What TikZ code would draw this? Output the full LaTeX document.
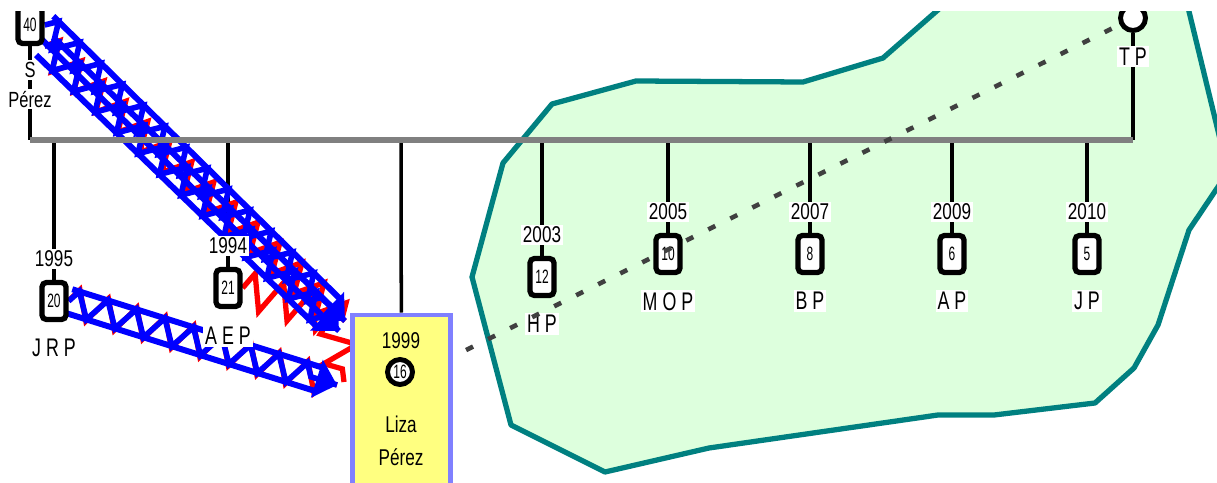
\documentclass[tikz,border=0pt]{standalone}
\usepackage{fontspec}
\setmainfont{Liberation Sans}[FakeStretch=0.75]
\newfontfamily\namefont{Liberation Sans}[FakeStretch=0.7]
\newfontfamily\numfont{Liberation Sans}[FakeStretch=0.62]
\usetikzlibrary{arrows.meta, positioning, calc, decorations.pathmorphing}

\pgfdeclarelayer{back}
\pgfsetlayers{back,main}

\definecolor{zonefill}{HTML}{DDFFDD}
\definecolor{zoneline}{HTML}{008080}
\definecolor{axisgray}{HTML}{808080}
\definecolor{lizafill}{HTML}{FFFF80}
\definecolor{lizaline}{HTML}{8080FF}
\definecolor{dots}{HTML}{404040}

% blue truss connector: two rails, zigzag bracing, arrow head
\newcommand{\trusslink}[2]{%
  \draw[rail] ($(#1)!7pt!90:(#2)$) -- ($(#2)!7pt!-90:(#1)$);
  \draw[rail] ($(#1)!7pt!-90:(#2)$) -- ($(#2)!7pt!90:(#1)$);
  \draw[brace] (#1) -- (#2);
  \draw[trusstip] ($(#2)!12pt!(#1)$) -- (#2);
}

\begin{document}
\begin{tikzpicture}[x=0.02cm, y=-0.02cm,
    stem/.style={line width=2pt},
    axis/.style={draw=axisgray, line width=3.3pt},
    zonearea/.style={draw=zoneline, fill=zonefill, line width=3pt, line join=round},
    pbox/.style={draw, fill=white, line width=3pt, rounded corners=2.5pt, minimum width=0.48cm, minimum height=0.74cm, inner sep=0pt, font=\numfont\fontsize{11}{12}\selectfont},
    pring/.style={draw, circle, fill=white, line width=2.8pt, minimum size=0.5cm, inner sep=0pt, font=\numfont\fontsize{11}{12}\selectfont},
    year/.style={fill=white, inner sep=1pt, font=\fontsize{13}{14}\selectfont},
    who/.style={fill=white, inner sep=1pt, font=\namefont\fontsize{14.5}{16}\selectfont},
    lizabox/.style={draw=lizaline, fill=lizafill, line width=2.8pt, minimum width=1.96cm, minimum height=4.4cm},
    dotline/.style={draw=dots, line width=2.6pt, dash pattern=on 4.5pt off 9.5pt},
    rail/.style={blue, line width=3.4pt, shorten >=11pt},
    brace/.style={blue, line width=3.2pt, decorate, decoration={zigzag, segment length=17pt, amplitude=7pt, post length=11pt}},
    trusstip/.style={blue, line width=3.4pt, -{Triangle[length=12pt, width=22pt]}},
    redzig/.style={red, line width=3pt, decorate, decoration={zigzag, segment length=17pt, amplitude=8pt}}
]
\useasboundingbox (0,0) rectangle (1217,483);

% timeline
\coordinate (t40) at (30,140);
\coordinate (t95) at (54,140);
\coordinate (t94) at (228,140);
\coordinate (t99) at (401,140);
\coordinate (t03) at (542,140);
\coordinate (t05) at (668,140);
\coordinate (t07) at (810,140);
\coordinate (t09) at (952,140);
\coordinate (t10) at (1087,140);
\coordinate (ttp) at (1133,140);
\draw[axis] (t40) -- (ttp);

% top row, cut by the frame
\begin{scope}
\clip (0,12) rectangle (1217,483);
\node[pbox] (b40) at (30,25) {40};
\node[pring] (tpc) at (1133,18) {};
\end{scope}
\node[who, font=\fontsize{12.5}{14}\selectfont, below=0.28cm of b40] (s40) {S};
\node[who, font=\fontsize{12.5}{14}\selectfont, below=0.18cm of s40] (p40) {Pérez};
\node[who, below=0.26cm of tpc] (ntp) {T P};

% people below the timeline
\node[pbox] (b95) at (54,301) {20};
\node[year, above=0.22cm of b95] (y95) {1995};
\node[who, below=0.3cm of b95] (n95) {J R P};

\node[pbox] (b94) at (228,288) {21};
\node[year, above=0.22cm of b94] (y94) {1994};
\node[who, below=0.32cm of b94] (n94) {A E P};

\node[pbox] (b03) at (542,277) {12};
\node[year, above=0.22cm of b03] (y03) {2003};
\node[who, below=0.3cm of b03] (n03) {H P};

\node[pbox] (b05) at (668,254) {10};
\node[year, above=0.22cm of b05] (y05) {2005};
\node[who, below=0.3cm of b05] (n05) {M O P};

\node[pbox] (b07) at (810,254) {8};
\node[year, above=0.22cm of b07] (y07) {2007};
\node[who, below=0.3cm of b07] (n07) {B P};

\node[pbox] (b09) at (952,254) {6};
\node[year, above=0.22cm of b09] (y09) {2009};
\node[who, below=0.3cm of b09] (n09) {A P};

\node[pbox] (b10) at (1087,254) {5};
\node[year, above=0.22cm of b10] (y10) {2010};
\node[who, below=0.3cm of b10] (n10) {J P};

% Liza Perez
\coordinate (lp) at (400,372);
\coordinate (ld) at (400,383);
\draw[dotline] (ld) -- (tpc);
\node[lizabox, anchor=north] (liza) at (401.5,312.5) {};
\node[year, fill=none] (y99) at (401,341) {1999};
\node[pring] (c16) at (lp) {16};
\node[align=center, font=\fontsize{13}{18.5}\selectfont] (lzname) at (401,441) {Liza\\Pérez};

% link ends at the box
\coordinate (lzA) at (345,321);
\coordinate (lzB) at (339,331);
\coordinate (lzC) at (337,385);
\coordinate (lzD) at (336,318);
\coordinate (lzE) at (344,382);

\begin{pgfonlayer}{back}
\begin{scope}
\clip (0,12) rectangle (1217,483);
\draw[zonearea] (955,-5) -- (883,58) -- (803,82) -- (636,81) -- (552,104) -- (503,163)
  -- (472,277) -- (511,425) -- (605,472) -- (709,448) -- (938,415) -- (994,415)
  -- (1095,403) -- (1134,368) -- (1158,325) -- (1189,230) -- (1228,172) -- (1185,-5) -- cycle;
\end{scope}
\foreach \t/\b in {t40/b40, t95/b95, t94/b94, t99/liza, t03/b03, t05/b05, t07/b07, t09/b09, t10/b10, ttp/tpc}
  \draw[stem] (\t) -- (\b);
% red links
\draw[redzig] (b40.south east) -- (lzA);
\draw[redzig] (b95.east) -- (lzC);
\draw[redzig, decoration={amplitude=10pt}] (b94.east) -- (lzD) -- (lzE);
% blue links
\trusslink{b40.east}{lzA}
\trusslink{b40.south east}{lzB}
\trusslink{b95.east}{lzC}
\end{pgfonlayer}

\end{tikzpicture}
\end{document}
